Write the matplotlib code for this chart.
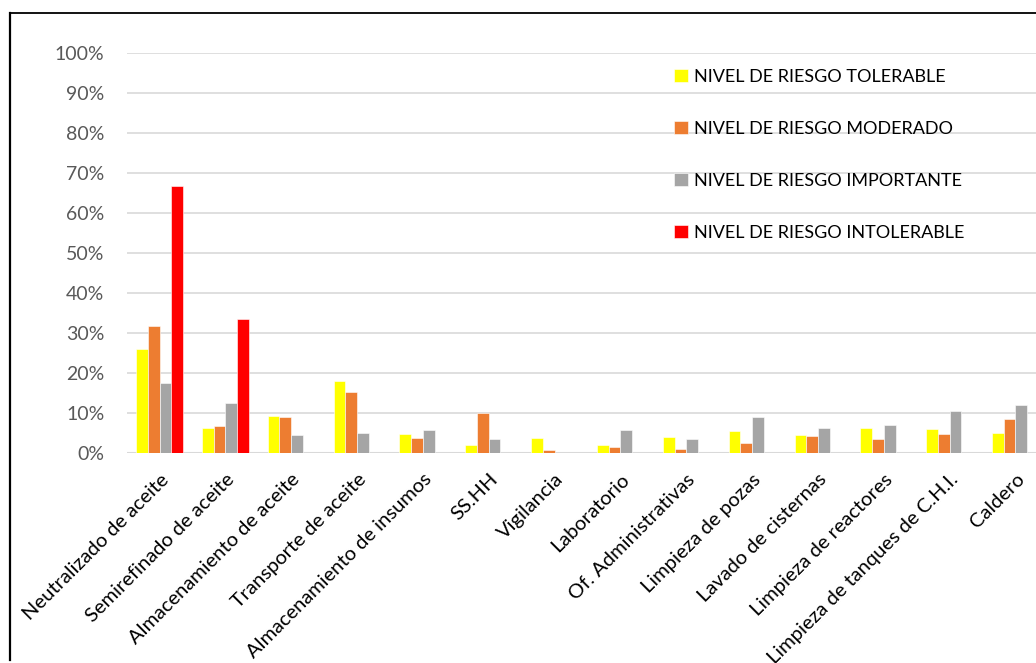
import numpy as np
import matplotlib
matplotlib.use('Agg')
import matplotlib.pyplot as plt
from matplotlib.lines import Line2D
from matplotlib.ticker import PercentFormatter

plt.rcParams['font.family'] = ['Lato', 'DejaVu Sans']

# categorías y porcentajes
areas = ['Neutralizado de aceite', 'Semirefinado de aceite', 'Almacenamiento de aceite',
         'Transporte de aceite', 'Almacenamiento de insumos', 'SS.HH', 'Vigilancia',
         'Laboratorio', 'Of. Administrativas', 'Limpieza de pozas', 'Lavado de cisternas',
         'Limpieza de reactores', 'Limpieza de tanques de C.H.I.', 'Caldero']
tolerable = [0.259, 0.062, 0.091, 0.179, 0.047, 0.018, 0.036, 0.018, 0.039, 0.054, 0.043, 0.062, 0.058, 0.048]
moderado = [0.317, 0.067, 0.089, 0.152, 0.036, 0.098, 0.006, 0.015, 0.009, 0.023, 0.041, 0.033, 0.046, 0.083]
importante = [0.173, 0.124, 0.043, 0.049, 0.056, 0.034, 0.0, 0.056, 0.034, 0.090, 0.062, 0.069, 0.104, 0.118]
intolerable = [0.667, 0.333, 0, 0, 0, 0, 0, 0, 0, 0, 0, 0, 0, 0]

series = [('NIVEL DE RIESGO TOLERABLE', tolerable, '#FFFF00'),
          ('NIVEL DE RIESGO MODERADO', moderado, '#ED7D31'),
          ('NIVEL DE RIESGO IMPORTANTE', importante, '#A5A5A5'),
          ('NIVEL DE RIESGO INTOLERABLE', intolerable, '#FF0000')]

fig = plt.figure(figsize=(10.36, 6.63), dpi=100)
ax = fig.add_axes([126.6 / 1036, 210.3 / 663, 921.8 / 1036, 400 / 663])

x = np.arange(len(areas))
w = 0.178
for i, (nombre, vals, color) in enumerate(series):
    ax.bar(x + (i - 1.5) * w, vals, width=w, color=color, label=nombre,
           edgecolor='white', linewidth=0.4, zorder=3)

ax.set_xlim(-0.5, len(areas) - 0.5)
ax.set_ylim(0, 1.0)
ax.set_yticks(np.arange(0, 1.01, 0.1))
ax.yaxis.set_major_formatter(PercentFormatter(1.0, decimals=0))
ax.grid(axis='y', color='#D9D9D9', linewidth=1.2, zorder=0)
for s in ax.spines.values():
    s.set_visible(False)
ax.axhline(0, color='#D9D9D9', linewidth=1.5, zorder=2)
ax.tick_params(axis='y', length=0, pad=16, labelsize=14, labelcolor='#595959')
ax.tick_params(axis='x', length=0, pad=13)
ax.set_xticks(x)
ax.set_xticklabels(areas, rotation=45, ha='right', va='top', rotation_mode='anchor',
                   fontsize=14.5, color='black')

ax.legend(loc='upper left', bbox_to_anchor=(674 / 1036, 1 - 68.5 / 663),
          bbox_transform=fig.transFigure, frameon=False, fontsize=13,
          handlelength=0.75, handleheight=0.75, handletextpad=0.35,
          labelspacing=2.0, borderaxespad=0, borderpad=0)

# marco exterior
fig.add_artist(Line2D([10 / 1036, 1.0], [1 - 12.8 / 663, 1 - 12.8 / 663],
                      transform=fig.transFigure, color='black', linewidth=1.3))
fig.add_artist(Line2D([10.3 / 1036, 10.3 / 1036], [1 - 12.8 / 663, 1 - 660 / 663],
                      transform=fig.transFigure, color='black', linewidth=1.6))

fig.savefig('out.png', dpi=100)
